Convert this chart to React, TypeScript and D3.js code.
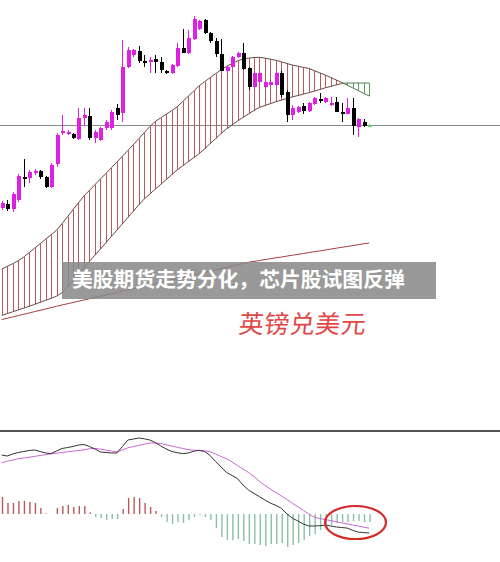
import React from "react";
import * as d3 from "d3";

// Price candles (value units, higher = up)
const opens = [192,196,191,200,223,222,227,229,223,213,236,268,267,266,261,282,284,262,260,272,272,292,287,333,345,349,339,338,341,338,329,327,334,352,347,361,371,380,367,359,346,329,333,343,347,332,313,318,313,315,315,327,308,285,288,294,289,296,301,298,295,298,288,286,292,273,278,275];
const highs = [199,200,208,226,241,230,231,230,224,237,267,285,270,267,292,292,292,270,273,280,290,296,360,353,351,354,345,343,345,343,330,336,357,371,370,384,380,381,368,362,361,334,344,348,357,333,328,328,319,319,328,329,310,295,294,297,298,303,307,303,303,303,297,302,302,282,281,276];
const lows = [190,189,188,198,213,217,225,221,212,212,233,265,265,261,260,274,260,257,259,270,270,280,278,332,343,337,333,327,327,327,326,326,333,347,346,360,370,366,357,343,329,328,332,342,330,310,312,317,312,314,313,303,278,280,287,286,288,295,297,297,294,288,278,286,265,263,273,274];
const closes = [197,191,206,224,222,228,229,223,213,235,265,269,268,262,282,285,262,268,272,278,288,285,333,350,350,339,338,340,338,330,327,335,352,347,362,381,379,367,359,346,329,333,343,347,331,313,327,327,318,318,327,305,285,292,293,289,297,302,300,302,297,288,287,292,274,281,274,275];

// Cloud spans
const spanA = [130.8,133.6,136.3,139.1,142.9,147.4,151.8,156.3,160.8,165.2,169.7,176.3,183.3,190.3,197.3,204,209.7,215.4,220.9,226.6,232.2,237.9,243.7,249.6,255.3,261.4,267.4,273.5,278.5,282.2,285.8,289.5,293.2,298.5,303.7,309,314.2,318.3,322.3,326.3,330.2,333.8,336.4,339,341.1,341.8,342.5,342.7,341.8,340.8,339.7,338.1,336.5,334.9,333.8,332.6,331.6,329.3,327.1,324.9,322.4,320,317.5,314.8,312.1,309.4,306.6,304];
const spanB = [84.6,86.4,88.2,90.1,91.9,93.7,95.7,97.7,99.7,101.7,103.8,107.3,113.5,119.8,126.1,132.3,138.6,144.9,151,157.3,163.6,169.9,176.2,182.6,188.8,195.2,201.1,205.9,210.9,215.7,220.5,225.3,230.1,234.2,238.3,242.3,246.4,251.2,256.4,261.4,266.5,271.1,275,278.9,282.6,286.1,289.5,292.6,294.5,296.4,298.3,299.9,301.5,303.1,304.5,305.9,307.3,308.9,310.5,312.2,313.6,315.1,316.6,317,317,317,317,317];
// Long moving average
const maLong = [80.4,81.7,83.1,84.4,85.7,87,88.4,89.7,91,92.4,93.7,95,96.3,97.5,98.8,100,101.3,102.5,103.8,105,106.3,107.6,108.8,110.1,111.3,112.6,113.8,115.1,116.4,117.6,118.8,120.1,121.4,122.6,123.9,125.1,126.4,127.6,128.9,130.1,131.4,132.7,133.9,135.2,136.4,137.7,138.6,139.5,140.4,141.3,142.2,143,143.9,144.8,145.6,146.5,147.4,148.3,149.1,150,150.9,151.8,152.7,153.5,154.4,155.3,156.2,157];
const refLevel = 275;

// MACD panel
const macdMain = [59,58,60,61.5,62.5,63.5,64,62.5,61,60.5,63,65.5,66.5,67.5,69,69.5,67.5,65,62,61.5,61,61,67.5,74,75,76,75.2,74,71.5,68,65,62.5,61.3,60.4,61,62.7,63.7,62.5,58.5,52.5,47,41.5,38.5,35.3,29,24,20.6,17.3,14,10.8,8.6,5.6,0.1,-4.2,-7,-10,-12,-12,-11.7,-11,-12,-13,-13.5,-14.1,-16.3,-18.1,-18.6,-19];
const macdSignal = [51.4,52.7,54,55.2,56,56.8,57.6,58.5,59.3,60.1,60.8,61.5,62.1,62.8,63.5,64.2,65.3,65.7,64.8,63.8,63,62.2,64,66.2,67.4,68.6,69.8,71,71,70.5,69.2,68,66.7,65.5,64.4,63.8,63.5,63.1,62.2,60,57.5,55.2,52,48.4,45,41.5,37.4,32.6,28.6,24.8,21.4,18,14.5,10.7,7.2,3.5,-0.1,-3.3,-4.5,-5.6,-6.7,-7.7,-8.8,-9.9,-11,-12,-13.2,-14.2];
const macdHist = [17,11,11,13,13,12,11,6,0.5,0,6,8,9,7,8,8,1.5,-3,-4,-6,-5,-5,5,16,17,16,11,7,3,-3,-8,-10,-8,-9,-6,-3,-1,-3,-6,-14,-23,-26,-26,-25,-27,-30,-30,-31,-32,-30,-30,-29,-33,-31,-29,-26,-22,-20,-16,-13,-11,-9,-8,-8,-7,-7,-8,-8];

const titleText = "美股期货走势分化，芯片股试图反弹";
const labelText = "英镑兑美元";

export default function App() {
  const W = 500, H = 562;
  const n = opens.length;
  const x = d3.scaleLinear().domain([0, n - 1]).range([1.7, 369.2]);
  const y = d3.scaleLinear().domain([0, 400]).range([400, 0]);
  const my = d3.scaleLinear().domain([0, 100]).range([514, 414]);

  const seg = (arr: number[], s: number, e: number, sc: any) =>
    d3.line<number>().x((_, j) => x(s + j)).y((d) => sc(d))(arr.slice(s, e + 1)) || "";
  const full = (arr: number[], sc: any) => seg(arr, 0, arr.length - 1, sc);

  const cross = 62;
  const magenta = "#e020e0";

  return (
    <svg width={W} height={H} style={{ position: "absolute", left: 0, top: 0, background: "#fff" }}>
      <rect x={0} y={0} width={W} height={H} fill="#fff" />
      {/* reference horizontal level */}
      <line x1={0} x2={W} y1={Math.round(y(refLevel)) + 0.5} y2={Math.round(y(refLevel)) + 0.5} stroke="#8a8a8a" strokeWidth={1} />

      {/* cloud hatch */}
      {spanA.map((a, i) => {
        const b = spanB[i];
        const xi = Math.round(x(i)) + 0.5;
        return (
          <line key={"h" + i} x1={xi} x2={xi} y1={y(a)} y2={y(b)} stroke={a >= b ? "#b45c5c" : "#5f9a5f"} strokeWidth={1} />
        );
      })}
      <path d={seg(spanA, 0, cross, y)} fill="none" stroke="#6e4646" strokeWidth={1} />
      <path d={seg(spanB, 0, cross, y)} fill="none" stroke="#6e4646" strokeWidth={1} />
      <path d={seg(spanA, cross, n - 1, y)} fill="none" stroke="#4f7a4f" strokeWidth={1} />
      <path d={seg(spanB, cross, n - 1, y)} fill="none" stroke="#4f7a4f" strokeWidth={1} />

      {/* long MA */}
      <path d={full(maLong, y)} fill="none" stroke="#a83c3c" strokeWidth={1} />

      {/* candles */}
      {opens.map((o, i) => {
        const c = closes[i];
        const col = c > o ? magenta : c < o ? "#000" : "#66cc66";
        const xi = Math.round(x(i));
        const top = Math.round(y(Math.max(o, c)));
        const bot = Math.round(y(Math.min(o, c)));
        return (
          <g key={"c" + i}>
            <line x1={xi + 0.5} x2={xi + 0.5} y1={y(highs[i])} y2={y(lows[i])} stroke={col} strokeWidth={1} />
            <rect x={xi - 1.5} y={top} width={4} height={Math.max(2, bot - top)} fill={col} shapeRendering="crispEdges" />
          </g>
        );
      })}

      {/* title banner */}
      <rect x={62} y={262} width={374} height={37} fill="#888" fillOpacity={0.86} />
      <text x={72} y={287} fill="#fff" fontFamily="'Noto Sans CJK SC', sans-serif" fontWeight={700} fontSize={20.8}>
        {titleText}
      </text>

      {/* red label */}
      <text x={238} y={333} fill="#e04848" fontFamily="'Noto Sans CJK SC', sans-serif" fontSize={25} transform="skewX(-6) translate(35,0)" style={{ letterSpacing: "0.5px" }}>
        {labelText}
      </text>

      {/* panel separator */}
      <line x1={0} x2={W} y1={431} y2={431} stroke="#555" strokeWidth={2} />

      {/* MACD histogram */}
      {macdHist.map((h, i) => (
        <line key={"m" + i} x1={x(i) + 0.8} x2={x(i) + 0.8} y1={my(0)} y2={my(h)} stroke={h >= 0 ? "#b85a5a" : "#8cbfa6"} strokeWidth={1.4} />
      ))}
      <path d={full(macdSignal, my)} fill="none" stroke="#cc66d6" strokeWidth={1} />
      <path d={full(macdMain, my)} fill="none" stroke="#333" strokeWidth={1} />

      {/* highlight ellipse */}
      <ellipse cx={355.5} cy={522.5} rx={30.5} ry={16.5} fill="none" stroke="#d42a2a" strokeWidth={2.2} />
    </svg>
  );
}
